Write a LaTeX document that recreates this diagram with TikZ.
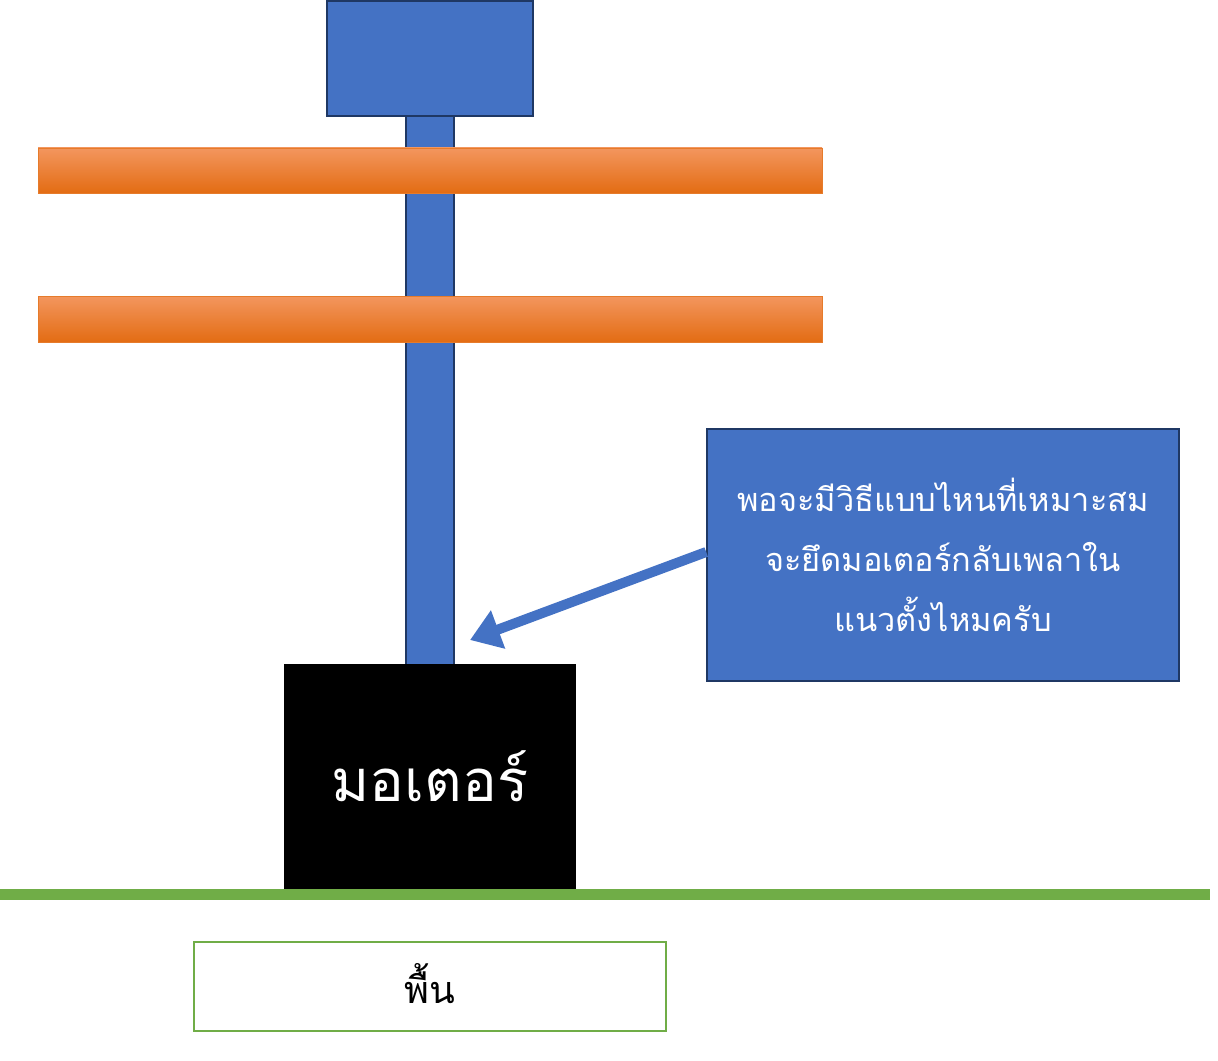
\documentclass[tikz,border=0pt]{standalone}
\usepackage{fontspec}
\newfontfamily\thaifont[Script=Thai]{Loma}
\usetikzlibrary{arrows.meta,positioning}
\definecolor{shaftblue}{HTML}{4472C4}
\definecolor{edgeblue}{HTML}{1F3864}
\definecolor{groundgreen}{HTML}{70AD47}
\definecolor{bartop}{HTML}{F3965E}
\definecolor{barmid}{HTML}{F47D2A}
\definecolor{barbot}{HTML}{E36C13}
\tikzset{
    bluepart/.style={
           fill=shaftblue,
           draw=edgeblue,
           line width=1pt,
           },
    plate/.style={
           top color=bartop,
           middle color=barmid,
           bottom color=barbot,
           draw=barbot!90!white,
           line width=0.5pt,
           },
    motorbox/.style={
           rectangle,
           fill=black,
           text=white,
           minimum width=5.84cm,
           minimum height=4.5cm,
           font=\thaifont\fontsize{33}{40}\selectfont,
           },
    groundbox/.style={
           rectangle,
           draw=groundgreen,
           line width=1pt,
           minimum width=9.44cm,
           minimum height=1.78cm,
           font=\thaifont\fontsize{21.5}{26}\selectfont,
           },
    callout/.style={
           rectangle,
           bluepart,
           text=white,
           align=center,
           text width=9cm,
           minimum width=9.44cm,
           minimum height=5.04cm,
           font=\thaifont\fontsize{18.5}{34}\selectfont,
           },
}

\begin{document}
\begin{tikzpicture}[x=0.02cm,y=-0.02cm]
\useasboundingbox (0,0) rectangle (1218,1061);
% shaft and top block
\draw[bluepart] (406,116) rectangle (454,665);
\draw[bluepart] (327,1) rectangle (533,116);
% the two plates
\draw[plate] (38,148) rectangle (822,193);
\draw[plate] (38,296) rectangle (822,342);
% motor, ground
\node[motorbox](motor) at (430,776.5){มอเตอร์};
\draw[groundgreen,line width=6pt] (0,894.5) -- (1210,894.5);
\node[groundbox](ground) at (430,986.5){\raisebox{4pt}{พื้น}};
% question
\node[callout](question) at (943,555){พอจะมีวิธีแบบไหนที่เหมาะสม\\จะยึดมอเตอร์กลับเพลาใน\\แนวตั้งไหมครับ};
\coordinate (tip) at (470,640);
\draw[shaftblue,line width=0.2cm,-{Triangle[length=0.6cm,width=0.78cm]}] ([yshift=0.06cm]question.west) -- (tip);
\end{tikzpicture}
\end{document}
